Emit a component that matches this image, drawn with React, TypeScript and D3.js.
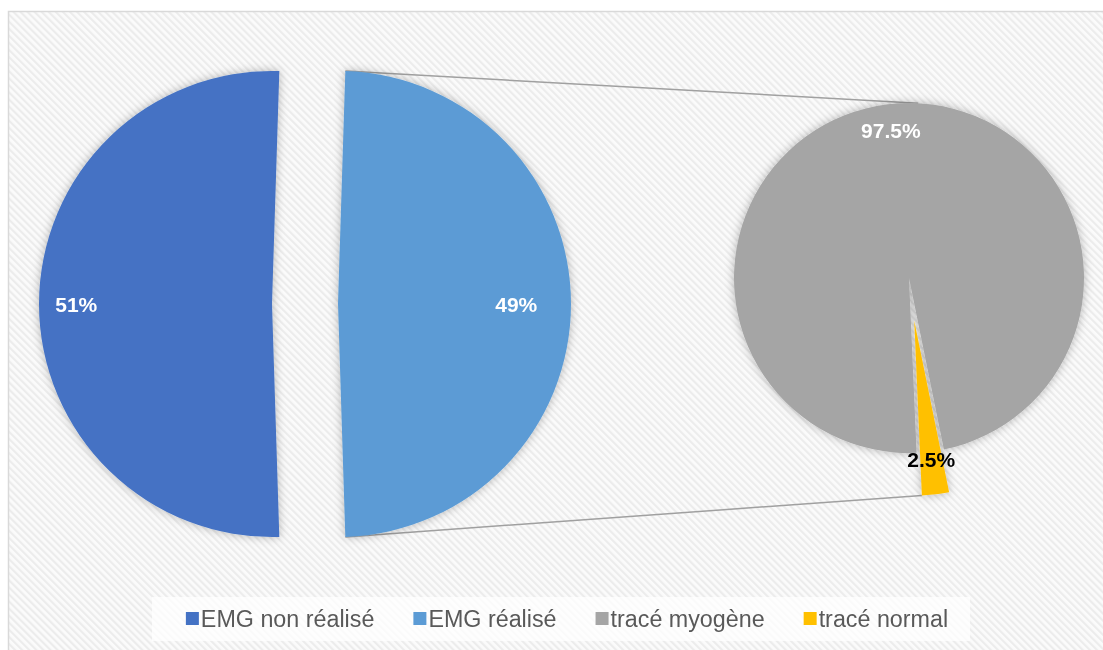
import React from "react";
import * as d3 from "d3";

const mainCategories = ["EMG non réalisé", "EMG réalisé"];
const mainValues = [51, 49];
const mainLabels = ["51%", "49%"];
const subCategories = ["tracé myogène", "tracé normal"];
const subValues = [97.5, 2.5];
const subLabels = ["97.5%", "2.5%"];
const legendItems = [...mainCategories, ...subCategories];
const palette = ["#4472C4", "#5B9BD5", "#A5A5A5", "#FFC000"];

const W = 1103;
const H = 650;
const deg = Math.PI / 180;

// layout constants
const main = { cx: 272, cy: 304, r: 233, explode: [0, 66], labelR: [0.84, 0.765] };
const sub = { cx: 909, cy: 278, r: 175, explode: [0, 43], labelR: [0.85, 0.8], start: 177.5 };

function measure(text: string, font: string) {
  const c = document.createElement("canvas").getContext("2d");
  if (!c) return text.length * 10;
  c.font = font;
  return c.measureText(text).width;
}

export default function App() {
  const mainPie = d3
    .pie<number>()
    .sort(null)
    .startAngle(1.5 * Math.PI - (mainValues[0] / 100) * Math.PI)
    .endAngle(1.5 * Math.PI - (mainValues[0] / 100) * Math.PI + 2 * Math.PI)(mainValues);
  const subPie = d3
    .pie<number>()
    .sort(null)
    .startAngle(sub.start * deg)
    .endAngle(sub.start * deg + 2 * Math.PI)(subValues);

  const mainArc = d3.arc<d3.PieArcDatum<number>>().innerRadius(0).outerRadius(main.r);
  const subArc = d3.arc<d3.PieArcDatum<number>>().innerRadius(0).outerRadius(sub.r);

  const off = (a: number, d: number) => [Math.sin(a) * d, -Math.cos(a) * d];
  const mid = (p: d3.PieArcDatum<number>) => (p.startAngle + p.endAngle) / 2;

  const mainCenters = mainPie.map((p, i) => {
    const [dx, dy] = off(mid(p), main.explode[i]);
    return [main.cx + dx, main.cy + dy];
  });
  const subCenters = subPie.map((p, i) => {
    const [dx, dy] = off(mid(p), sub.explode[i]);
    return [sub.cx + dx, sub.cy + dy];
  });

  // connector lines
  const split = mainPie[1];
  const [tx0, ty0] = off(split.startAngle, main.r);
  const p1 = [mainCenters[1][0] + tx0, mainCenters[1][1] + ty0];
  const [tx1, ty1] = off(split.endAngle, main.r);
  const p2 = [mainCenters[1][0] + tx1, mainCenters[1][1] + ty1];
  const [sx0, sy0] = off(3 * deg, sub.r);
  const q1 = [sub.cx + sx0, sub.cy + sy0];
  const small = subPie[1];
  const [sx1, sy1] = off(small.endAngle, sub.r);
  const q2 = [subCenters[1][0] + sx1, subCenters[1][1] + sy1];

  // legend
  const legendFont = "23.3px 'Liberation Sans', Arial, sans-serif";
  const marker = 13;
  const markerGap = 2;
  const itemGap = 39;
  const widths = legendItems.map((t) => measure(t, legendFont));
  const total = widths.reduce((s, w) => s + marker + markerGap + w, 0) + itemGap * (legendItems.length - 1);
  const legendCenter = 567;
  let lx = legendCenter - total / 2;
  const legendPos = widths.map((w) => {
    const x = lx;
    lx += marker + markerGap + w + itemGap;
    return x;
  });

  return (
    <svg
      width={W}
      height={H}
      style={{ position: "absolute", left: 0, top: 0, background: "#ffffff" }}
    >
      <defs>
        <pattern id="hatch" width="5" height="5" patternUnits="userSpaceOnUse" patternTransform="rotate(-45)">
          <rect width="5" height="5" fill="#fbfbfb" />
          <rect width="2.2" height="5" fill="#ececec" />
        </pattern>
        <filter id="shadow" x="-20%" y="-20%" width="140%" height="140%">
          <feDropShadow dx="0" dy="0" stdDeviation="5" floodColor="#000" floodOpacity="0.28" />
        </filter>
      </defs>
      <rect x={8.5} y={11.5} width={W} height={H} fill="url(#hatch)" stroke="#d9d9d9" strokeWidth={1.5} />

      <line x1={p1[0]} y1={p1[1]} x2={q1[0]} y2={q1[1]} stroke="#a0a0a0" strokeWidth={1.5} />
      <line x1={p2[0]} y1={p2[1]} x2={q2[0]} y2={q2[1]} stroke="#a0a0a0" strokeWidth={1.5} />

      <g filter="url(#shadow)">
        {mainPie.map((p, i) => (
          <path
            key={"m" + i}
            d={mainArc(p) || ""}
            transform={`translate(${mainCenters[i][0]},${mainCenters[i][1]})`}
            fill={palette[i]}
          />
        ))}
        {subPie.map((p, i) => (
          <path
            key={"s" + i}
            d={subArc(p) || ""}
            transform={`translate(${subCenters[i][0]},${subCenters[i][1]})`}
            fill={palette[i + 2]}
          />
        ))}
      </g>

      {mainPie.map((p, i) => {
        const [dx, dy] = off(mid(p), main.r * main.labelR[i]);
        return (
          <text
            key={"ml" + i}
            x={mainCenters[i][0] + dx}
            y={mainCenters[i][1] + dy}
            textAnchor="middle"
            dominantBaseline="central"
            fill="#ffffff"
            fontFamily="'Liberation Sans', Arial, sans-serif"
            fontWeight="bold"
            fontSize={21}
          >
            {mainLabels[i]}
          </text>
        );
      })}
      {subPie.map((p, i) => {
        const [dx, dy] = off(mid(p), sub.r * sub.labelR[i]);
        return (
          <text
            key={"sl" + i}
            x={subCenters[i][0] + dx}
            y={subCenters[i][1] + dy}
            textAnchor="middle"
            dominantBaseline="central"
            fill={i === 0 ? "#ffffff" : "#000000"}
            fontFamily="'Liberation Sans', Arial, sans-serif"
            fontWeight="bold"
            fontSize={21}
          >
            {subLabels[i]}
          </text>
        );
      })}

      <rect x={152} y={597} width={818} height={44} fill="#ffffff" fillOpacity={0.75} />
      {legendItems.map((t, i) => (
        <g key={"lg" + i} transform={`translate(${legendPos[i]},619)`}>
          <rect x={0} y={-7} width={marker} height={marker} fill={palette[i]} />
          <text
            x={marker + markerGap}
            y={0}
            dominantBaseline="central"
            fill="#595959"
            style={{ font: legendFont }}
          >
            {t}
          </text>
        </g>
      ))}
    </svg>
  );
}
